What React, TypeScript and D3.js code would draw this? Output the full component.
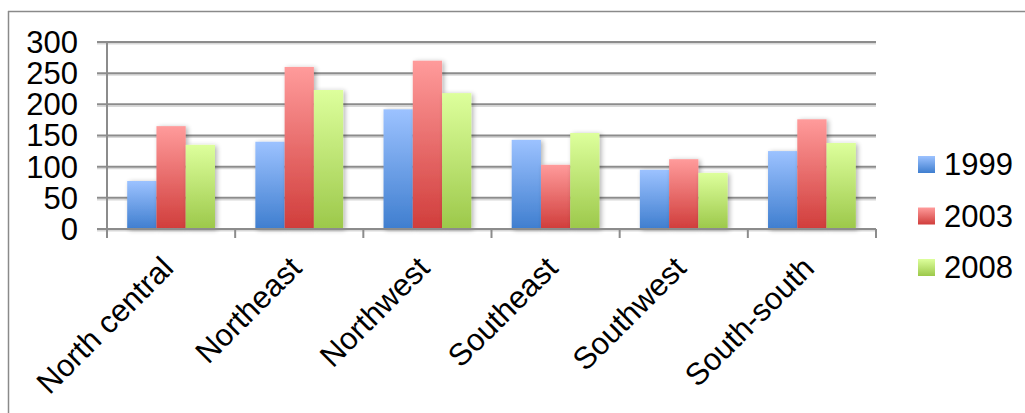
import React from "react";
import * as d3 from "d3";

const categories = ["North central", "Northeast", "Northwest", "Southeast", "Southwest", "South-south"];
const seriesNames = ["1999", "2003", "2008"];
const values1999 = [77, 140, 192, 143, 95, 125];
const values2003 = [165, 260, 270, 103, 112, 176];
const values2008 = [135, 223, 218, 154, 90, 138];
const yTicks = [0, 50, 100, 150, 200, 250, 300];

const seriesValues = [values1999, values2003, values2008];
const gradients = [
  { id: "gBlue", top: "#9cc2ff", bottom: "#3f7ecf" },
  { id: "gRed", top: "#ff9b9b", bottom: "#d03d3b" },
  { id: "gGreen", top: "#ddff9c", bottom: "#9cc84a" },
];

export default function App() {
  const W = 1025, H = 413;
  const left = 107, right = 876, top = 42, bottom = 229;
  const x = d3.scaleBand<string>().domain(categories).range([left, right]);
  const y = d3.scaleLinear().domain([0, 300]).range([bottom, top]);
  const bw = x.bandwidth();
  const barW = bw / 4.38;
  const off = (bw - 3 * barW) / 2;
  const font = "'Liberation Sans', Arial, sans-serif";
  const fs = 31;

  return (
    <svg width={W} height={H} style={{ position: "absolute", left: 0, top: 0 }}>
      <defs>
        {gradients.map((g) => (
          <linearGradient key={g.id} id={g.id} x1="0" y1="0" x2="0" y2="1">
            <stop offset="0" stopColor={g.top} />
            <stop offset="1" stopColor={g.bottom} />
          </linearGradient>
        ))}
        <filter id="shadow" x="-20%" y="-10%" width="150%" height="120%">
          <feGaussianBlur in="SourceAlpha" stdDeviation="2.5" />
          <feOffset dx="2" dy="1" result="b" />
          <feComponentTransfer>
            <feFuncA type="linear" slope="0.3" />
          </feComponentTransfer>
          <feMerge>
            <feMergeNode />
            <feMergeNode in="SourceGraphic" />
          </feMerge>
        </filter>
      </defs>
      <rect x={0} y={0} width={W} height={H} fill="#fff" />
      {/* chart border */}
      <line x1={8} x2={W + 2} y1={11.5} y2={11.5} stroke="#8a8a8a" strokeWidth={1.5} />
      <line x1={8.5} x2={8.5} y1={11} y2={H + 2} stroke="#8a8a8a" strokeWidth={1.5} />

      {/* gridlines */}
      {yTicks.map((t) => (
        <g key={t}>
          <line x1={97} x2={right} y1={y(t) + 1.8} y2={y(t) + 1.8} stroke="#d8d8d8" strokeWidth={1.5} />
          <line x1={97} x2={right} y1={y(t)} y2={y(t)} stroke="#8c8c8c" strokeWidth={2} />
        </g>
      ))}
      {/* y axis */}
      <line x1={left} x2={left} y1={top} y2={bottom + 9} stroke="#8c8c8c" strokeWidth={2} />
      {/* category ticks */}
      {categories.map((c) => (
        <line key={c} x1={(x(c) as number) + bw} x2={(x(c) as number) + bw} y1={bottom} y2={bottom + 9} stroke="#8c8c8c" strokeWidth={2} />
      ))}

      {/* bars */}
      {seriesValues.map((vals, si) => (
        <g key={si} filter="url(#shadow)">
          {vals.map((v, ci) => (
            <rect
              key={ci}
              x={(x(categories[ci]) as number) + off + si * barW}
              y={y(v)}
              width={barW}
              height={y(0) - y(v)}
              fill={`url(#${gradients[si].id})`}
            />
          ))}
        </g>
      ))}
      <line x1={left} x2={right} y1={bottom} y2={bottom} stroke="#8c8c8c" strokeWidth={2} />

      {/* y tick labels */}
      {yTicks.map((t) => (
        <text key={t} x={78} y={y(t)} dy="0.35em" textAnchor="end" fontFamily={font} fontSize={fs} fill="#000">
          {t}
        </text>
      ))}

      {/* x labels */}
      {categories.map((c) => (
        <text
          key={c}
          transform={`translate(${(x(c) as number) + bw / 2 + 4},${270}) rotate(-45)`}
          textAnchor="end"
          fontFamily={font}
          fontSize={fs}
          fill="#000"
        >
          {c}
        </text>
      ))}

      {/* legend */}
      {seriesNames.map((s, i) => (
        <g key={s} transform={`translate(918,${156 + i * 51.5})`}>
          <rect x={0} y={0} width={17} height={17} fill={`url(#${gradients[i].id})`} />
          <text x={26} y={8.5} dy="0.35em" fontFamily={font} fontSize={fs} fill="#000">
            {s}
          </text>
        </g>
      ))}
    </svg>
  );
}
